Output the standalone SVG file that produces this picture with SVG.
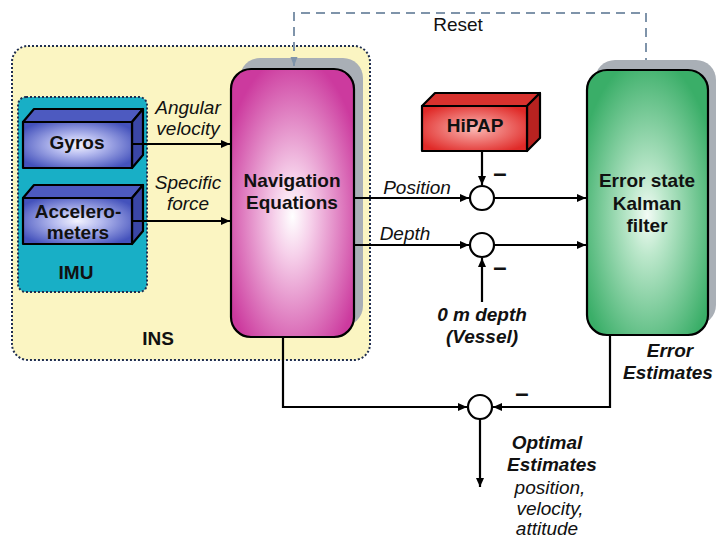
<svg xmlns="http://www.w3.org/2000/svg" width="716" height="539" viewBox="0 0 716 539">
<defs>
<radialGradient id="gMag" cx="0.5" cy="0.55" r="0.6">
<stop offset="0" stop-color="#ffffff"/>
<stop offset="0.25" stop-color="#f6d0ea"/>
<stop offset="1" stop-color="#cc3a9e"/>
</radialGradient>
<radialGradient id="gGreen" cx="0.5" cy="0.55" r="0.6">
<stop offset="0" stop-color="#f2fbf5"/>
<stop offset="0.25" stop-color="#bde8cc"/>
<stop offset="1" stop-color="#3aae68"/>
</radialGradient>
<radialGradient id="gBlue" cx="0.5" cy="0.5" r="0.6">
<stop offset="0" stop-color="#f4f4ff"/>
<stop offset="0.35" stop-color="#b8bdf0"/>
<stop offset="1" stop-color="#4452bc"/>
</radialGradient>
<radialGradient id="gRed" cx="0.5" cy="0.5" r="0.6">
<stop offset="0" stop-color="#fbb8b4"/>
<stop offset="1" stop-color="#e02a28"/>
</radialGradient>
<marker id="ah" markerWidth="10" markerHeight="10" refX="9" refY="5" orient="auto" markerUnits="userSpaceOnUse">
<path d="M0,1 L9,5 L0,9 Z" fill="#000"/>
</marker>
<marker id="ahg" markerWidth="10" markerHeight="10" refX="9" refY="5" orient="auto" markerUnits="userSpaceOnUse">
<path d="M0,1.5 L9,5 L0,8.5 Z" fill="#7f94aa"/>
</marker>
</defs>
<style>
text{font-family:"Liberation Sans",Arial,sans-serif;font-size:19px;fill:#111;text-anchor:middle}
.b{font-weight:bold}
.i{font-style:italic}
.bi{font-weight:bold;font-style:italic}
.m{font-weight:bold;font-size:24px}
.ln{fill:none;stroke:#000;stroke-width:2.2}
.box{stroke:#000;stroke-width:2.2;stroke-linejoin:round}
.shadow{fill:#a9afb6}
.sum{fill:#fff;stroke:#000;stroke-width:2.2}
</style>
<rect width="716" height="539" fill="#fff"/>

<g id="ins">
<rect x="12" y="46" width="358" height="314" rx="16" fill="#fbf5c2" stroke="#1f2e50" stroke-width="2" stroke-dasharray="2,2"/>
<text class="b" x="158" y="345">INS</text>
</g>

<g id="imu">
<rect x="18" y="97" width="129" height="195" rx="8" fill="#18afc6" stroke="#1f2e50" stroke-width="2" stroke-dasharray="2,2"/>
<text class="b" x="76" y="279">IMU</text>
</g>

<g id="gyros">
<polygon class="box" points="23,122 34,109 143,109 132,122" fill="#4d5ac0"/>
<polygon class="box" points="132,122 143,109 143,155 132,168" fill="#3a46a6"/>
<rect class="box" x="23" y="122" width="109" height="46" fill="url(#gBlue)"/>
<text class="b" x="77" y="149">Gyros</text>
</g>

<g id="accelerometers">
<polygon class="box" points="23,198 34,185 143,185 132,198" fill="#4d5ac0"/>
<polygon class="box" points="132,198 143,185 143,231 132,244" fill="#3a46a6"/>
<rect class="box" x="23" y="198" width="109" height="46" fill="url(#gBlue)"/>
<text class="b" x="78" y="218">Accelero-</text>
<text class="b" x="78" y="239">meters</text>
</g>

<g id="nav">
<rect class="shadow" x="240" y="58" width="123" height="268" rx="20"/>
<rect class="box" x="231" y="69" width="123" height="268" rx="20" fill="url(#gMag)"/>
<text class="b" x="292" y="187">Navigation</text>
<text class="b" x="292" y="209">Equations</text>
</g>

<g id="kalman">
<rect class="shadow" x="595" y="60" width="121" height="265" rx="20"/>
<rect class="box" x="587" y="70" width="121" height="265" rx="20" fill="url(#gGreen)"/>
<text class="b" x="647" y="187">Error state</text>
<text class="b" x="647" y="210">Kalman</text>
<text class="b" x="647" y="232">filter</text>
</g>

<g id="hipap">
<polygon class="box" points="422,106 435,93 540,93 527,106" fill="#d8322e"/>
<polygon class="box" points="527,106 540,93 540,138 527,151" fill="#b82220"/>
<rect class="box" x="422" y="106" width="105" height="45" fill="url(#gRed)"/>
<text class="b" x="475" y="132">HiPAP</text>
</g>

<g id="sum1"><circle class="sum" cx="482" cy="198" r="12"/><text class="m" x="500" y="181">–</text></g>
<g id="sum2"><circle class="sum" cx="482" cy="245" r="12"/><text class="m" x="500" y="275">–</text></g>
<g id="sum3"><circle class="sum" cx="480" cy="407" r="12"/><text class="m" x="522" y="401">–</text></g>

<g id="connectors">
<path d="M294 66 V13 H646 V60" fill="none" stroke="#7f94aa" stroke-width="2" stroke-dasharray="9,6"/>
<path d="M294 40 V66" fill="none" stroke="none" marker-end="url(#ahg)"/>
<path class="ln" d="M132 144 H230" marker-end="url(#ah)"/>
<path class="ln" d="M132 221 H230" marker-end="url(#ah)"/>
<path class="ln" d="M354 198 H469" marker-end="url(#ah)"/>
<path class="ln" d="M482 151 V185" marker-end="url(#ah)"/>
<path class="ln" d="M494 198 H586" marker-end="url(#ah)"/>
<path class="ln" d="M354 245 H469" marker-end="url(#ah)"/>
<path class="ln" d="M482 302 V258" marker-end="url(#ah)"/>
<path class="ln" d="M494 245 H586" marker-end="url(#ah)"/>
<path class="ln" d="M283 337 V407 H467" marker-end="url(#ah)"/>
<path class="ln" d="M610 335 V407 H493" marker-end="url(#ah)"/>
<path class="ln" d="M480 419 V487" marker-end="url(#ah)"/>
</g>

<g id="labels">
<text x="458" y="31">Reset</text>
<text class="i" x="188" y="114">Angular</text>
<text class="i" x="188" y="135">velocity</text>
<text class="i" x="188" y="189">Specific</text>
<text class="i" x="188" y="210">force</text>
<text class="i" x="417" y="194">Position</text>
<text class="i" x="405" y="240">Depth</text>
<text class="bi" x="482" y="321">0 m depth</text>
<text class="bi" x="482" y="343">(Vessel)</text>
<text class="bi" x="670" y="357">Error</text>
<text class="bi" x="668" y="379">Estimates</text>
<text class="bi" x="547" y="449">Optimal</text>
<text class="bi" x="552" y="471">Estimates</text>
<text class="i" x="550" y="494">position,</text>
<text class="i" x="550" y="515">velocity,</text>
<text class="i" x="547" y="535">attitude</text>
</g>
</svg>
